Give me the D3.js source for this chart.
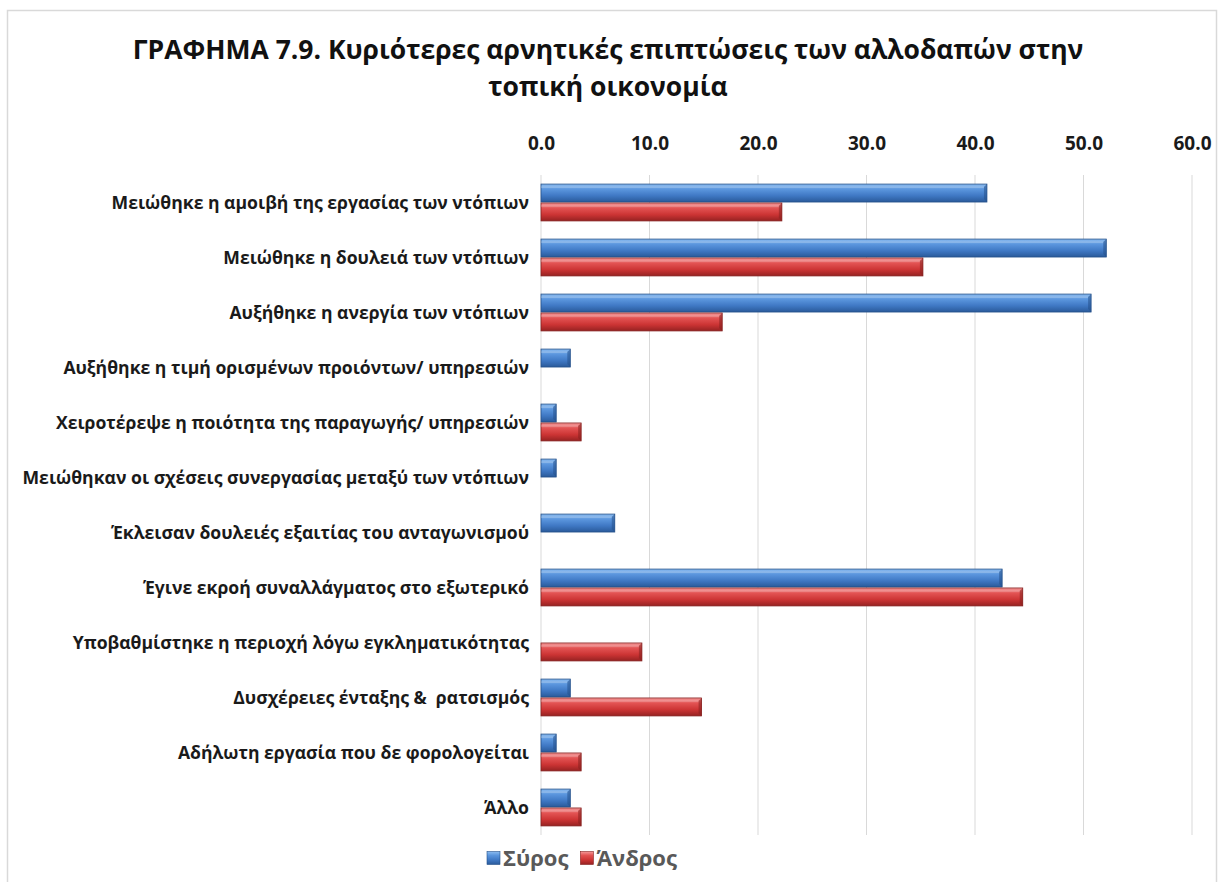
<!DOCTYPE html>
<html lang="el">
<head>
<meta charset="utf-8">
<script src="https://cdn.jsdelivr.net/npm/d3@7/dist/d3.min.js"></script>
<style>
  html, body { margin: 0; padding: 0; background: #ffffff; }
  svg { display: block; }
  text { font-family: "Open Sans", "Noto Sans", "DejaVu Sans", sans-serif; }
</style>
</head>
<body>
<svg id="chart" width="1219" height="882"></svg>
<script>
// Categories (negative effects of foreign workers on the local economy)
const categories = [
  "Μειώθηκε η αμοιβή της εργασίας των ντόπιων",
  "Μειώθηκε η δουλειά των ντόπιων",
  "Αυξήθηκε η ανεργία των ντόπιων",
  "Αυξήθηκε η τιμή ορισμένων προιόντων/ υπηρεσιών",
  "Χειροτέρεψε η ποιότητα της παραγωγής/ υπηρεσιών",
  "Μειώθηκαν οι σχέσεις συνεργασίας μεταξύ των ντόπιων",
  "Έκλεισαν δουλειές εξαιτίας του ανταγωνισμού",
  "Έγινε εκροή συναλλάγματος στο εξωτερικό",
  "Υποβαθμίστηκε η περιοχή λόγω εγκληματικότητας",
  "Δυσχέρειες ένταξης &  ρατσισμός",
  "Αδήλωτη εργασία που δε φορολογείται",
  "Άλλο"
];

const seriesNames = ["Σύρος", "Άνδρος"];

// Percentages per island
const syrosValues  = [41.1, 52.1, 50.7, 2.7, 1.4, 1.4, 6.8, 42.5, 0, 2.7, 1.4, 2.7];
const androsValues = [22.2, 35.2, 16.7, 0, 3.7, 0, 0, 44.4, 9.3, 14.8, 3.7, 3.7];

const tickValues = [0, 10, 20, 30, 40, 50, 60];

const titleLines = [
  "ΓΡΑΦΗΜΑ 7.9. Κυριότερες αρνητικές επιπτώσεις των αλλοδαπών στην",
  "τοπική οικονομία"
];

const svg = d3.select("#chart");
const W = 1219, H = 882;

// outer frame
svg.append("rect")
  .attr("x", 7.5).attr("y", 10.5)
  .attr("width", W - 10).attr("height", H)
  .attr("fill", "#ffffff")
  .attr("stroke", "#d9d9d9").attr("stroke-width", 1.5);

const margin = { top: 175, right: 27, bottom: 47, left: 541 };
const plotW = W - margin.left - margin.right;

const x = d3.scaleLinear().domain([0, 60]).range([margin.left, margin.left + plotW]);
const y = d3.scaleBand().domain(categories)
  .range([margin.top, H - margin.bottom])
  .paddingInner(0.33).paddingOuter(0.165);
const ySub = d3.scaleBand().domain(seriesNames)
  .range([0, y.bandwidth()]).paddingInner(0.05);

// gradients for the bevelled bars
const defs = svg.append("defs");
const palettes = {
  "Σύρος":  { id: "gSyros",  stops: ["#8cbcf0", "#5a95dd", "#3f78c4", "#2a5a9a"], edge: "#24508a" },
  "Άνδρος": { id: "gAndros", stops: ["#f59a9a", "#e25252", "#cc3434", "#962222"], edge: "#85201f" }
};
Object.values(palettes).forEach(p => {
  const g = defs.append("linearGradient").attr("id", p.id)
    .attr("x1", 0).attr("y1", 0).attr("x2", 0).attr("y2", 1);
  [0, 0.3, 0.65, 1].forEach((o, i) =>
    g.append("stop").attr("offset", o).attr("stop-color", p.stops[i]));
});

// gridlines
svg.append("g").selectAll("line").data(tickValues).join("line")
  .attr("x1", d => x(d)).attr("x2", d => x(d))
  .attr("y1", margin.top).attr("y2", H - margin.bottom)
  .attr("stroke", "#d9d9d9").attr("stroke-width", 1);

// top axis labels
const xAxis = d3.axisTop(x).tickValues(tickValues)
  .tickFormat(d3.format(".1f")).tickSize(0).tickPadding(0);
const gx = svg.append("g").attr("transform", `translate(0,${margin.top - 32})`).call(xAxis);
gx.select(".domain").remove();
gx.selectAll("text")
  .attr("font-size", 19).attr("font-weight", 700).attr("fill", "#1a1a1a")
  .attr("dy", "0.35em").attr("y", 0);

// category labels
svg.append("g").selectAll("text").data(categories).join("text")
  .attr("x", margin.left - 12)
  .attr("y", d => y(d) + y.bandwidth() / 2)
  .attr("dy", "0.35em")
  .attr("text-anchor", "end")
  .attr("font-size", 17.6).attr("font-weight", 700).attr("fill", "#1a1a1a")
  .style("white-space", "pre")
  .text(d => d);

// bars
const rows = categories.map((c, i) => ({ cat: c, values: [
  { key: "Σύρος", v: syrosValues[i] },
  { key: "Άνδρος", v: androsValues[i] }
]}));

const groups = svg.append("g").selectAll("g").data(rows).join("g")
  .attr("transform", d => `translate(0,${y(d.cat)})`);

groups.selectAll("g.bar").data(d => d.values.filter(v => v.v > 0)).join("g")
  .attr("class", "bar")
  .each(function(d) {
    const g = d3.select(this);
    const p = palettes[d.key];
    const x0 = x(0), x1 = x(d.v);
    const y0 = ySub(d.key), h = ySub.bandwidth();
    const bev = Math.min(3, (x1 - x0) / 3);
    g.append("rect")
      .attr("x", x0).attr("y", y0)
      .attr("width", x1 - x0).attr("height", h)
      .attr("fill", `url(#${p.id})`)
      .attr("stroke", p.edge).attr("stroke-width", 0.8);
    // bevelled end cap
    g.append("path")
      .attr("d", `M${x1 - bev},${y0 + bev} L${x1},${y0} L${x1},${y0 + h} L${x1 - bev},${y0 + h - bev} Z`)
      .attr("fill", p.edge).attr("opacity", 0.55);
    g.append("line")
      .attr("x1", x0).attr("x2", x1 - bev)
      .attr("y1", y0 + bev).attr("y2", y0 + bev)
      .attr("stroke", "#ffffff").attr("stroke-opacity", 0.35).attr("stroke-width", 1);
  });

// title
svg.append("g").selectAll("text").data(titleLines).join("text")
  .attr("x", 608).attr("y", (d, i) => 50 + i * 37)
  .attr("dy", "0.35em")
  .attr("text-anchor", "middle")
  .attr("font-size", 26.5).attr("font-weight", 700).attr("fill", "#111111")
  .text(d => d);

// legend
const legend = svg.append("g").attr("transform", "translate(487,858)");
let lx = 0;
seriesNames.forEach(name => {
  const p = palettes[name];
  legend.append("rect").attr("x", lx).attr("y", -6.5).attr("width", 13).attr("height", 13)
    .attr("fill", `url(#${p.id})`).attr("stroke", p.edge).attr("stroke-width", 0.6);
  const t = legend.append("text").attr("x", lx + 16).attr("y", 0).attr("dy", "0.35em")
    .attr("font-size", 22).attr("font-weight", 700).attr("fill", "#595959").text(name);
  lx += 16 + t.node().getComputedTextLength() + 12;
});
</script>
</body>
</html>
